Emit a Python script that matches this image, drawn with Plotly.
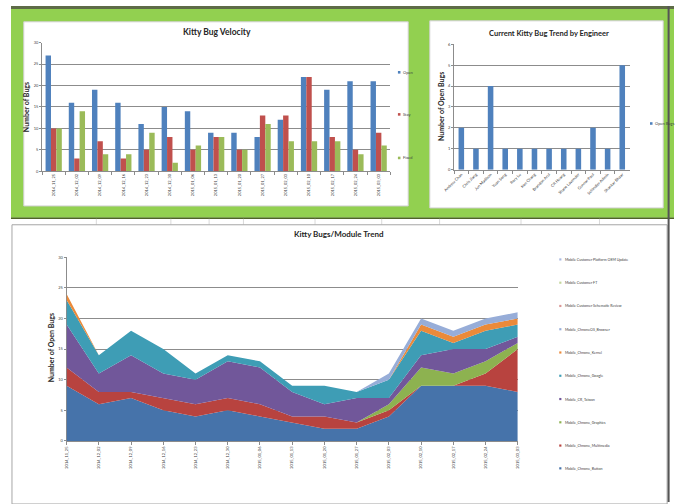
import plotly.graph_objects as go

W, H = 676, 504
def px(x): return x / W
def py(y): return 1 - y / H

# ---------------- data ----------------
dates = ["2014_11_25", "2014_12_02", "2014_12_09", "2014_12_16", "2014_12_23",
         "2014_12_30", "2015_01_06", "2015_01_13", "2015_01_20", "2015_01_27",
         "2015_02_03", "2015_02_10", "2015_02_17", "2015_02_24", "2015_03_03"]

open_bugs = [27, 16, 19, 16, 11, 15, 14, 9, 9, 8, 12, 22, 19, 21, 21]
stay_bugs = [10, 3, 7, 3, 5, 8, 5, 8, 5, 13, 13, 22, 8, 5, 9]
fixed_bugs = [10, 14, 4, 4, 9, 2, 6, 8, 5, 11, 7, 7, 7, 4, 6]

engineers = ["Andrew Chan", "Chris Jiang", "Jun Madison", "Yuan Song", "Rory Lu",
             "Ken Chang", "Brandon Arul", "CR Huang", "Shane Lavender",
             "Gunnar Paul", "Schindler Admin", "Shankar Bhaar"]
engineer_open = [2, 1, 4, 1, 1, 1, 1, 1, 1, 2, 1, 5]

chrome_button = [9, 6, 7, 5, 4, 5, 4, 3, 2, 2, 4, 9, 9, 9, 8]
chrome_multimedia = [3, 2, 1, 2, 2, 2, 2, 1, 2, 1, 1, 0, 0, 2, 7]
chrome_graphics = [0, 0, 0, 0, 0, 0, 0, 0, 0, 0, 1, 3, 2, 2, 1]
cr_taiwan = [7, 3, 6, 4, 4, 6, 6, 4, 2, 4, 1, 2, 4, 2, 1]
chrome_google = [4, 3, 4, 4, 1, 1, 1, 1, 3, 1, 3, 4, 1, 3, 2]
chrome_kernel = [1, 0, 0, 0, 0, 0, 0, 0, 0, 0, 0, 1, 1, 1, 1]
chromeos_browser = [0, 0, 0, 0, 0, 0, 0, 0, 0, 0, 1, 1, 1, 1, 1]
customer_schematic = [0] * 15
customer_ft = [0] * 15
customer_platform = [0] * 15

module_names = ["Mobile_Chrome_Button", "Mobile_Chrome_Multimedia", "Mobile_Chrome_Graphics",
                "Mobile_CR_Taiwan", "Mobile_Chrome_Google", "Mobile_Chrome_Kernel",
                "Mobile_ChromeOS_Browser", "Mobile Customer Schematic Review",
                "Mobile Customer FT", "Mobile Customer Platform OEM Update"]
module_series = [chrome_button, chrome_multimedia, chrome_graphics, cr_taiwan,
                 chrome_google, chrome_kernel, chromeos_browser, customer_schematic,
                 customer_ft, customer_platform]
module_colors = ["#4673AA", "#B8433F", "#8DB250", "#71579A", "#3E9DB5", "#EB8A3A",
                 "#97ADD8", "#D99694", "#C3D69B", "#A9B8E0"]

FONT = "Lato"
GRID = "#8C8C8C"
AXIS = "#8C8C8C"
TXT = "#404040"

fig = go.Figure()

# ---------------- top-left: grouped bars ----------------
for name, vals, col in [("Open", open_bugs, "#4F81BD"), ("Stay", stay_bugs, "#C0504D"),
                        ("Fixed", fixed_bugs, "#9BBB59")]:
    fig.add_trace(go.Bar(x=dates, y=vals, name=name, marker_color=col,
                         marker_line_width=0, xaxis="x", yaxis="y", showlegend=False))

# ---------------- top-right: engineer bars ----------------
fig.add_trace(go.Bar(x=engineers, y=engineer_open, name="Open Bugs", marker_color="#4F81BD",
                     marker_line_width=0, width=0.38, offset=-0.19,
                     xaxis="x2", yaxis="y2", showlegend=False))

# ---------------- bottom: stacked area ----------------
for name, vals, col in zip(module_names, module_series, module_colors):
    fig.add_trace(go.Scatter(x=dates, y=vals, name=name, mode="lines",
                             line=dict(width=0, color=col), fillcolor=col,
                             stackgroup="one", xaxis="x3", yaxis="y3", showlegend=False))

common_x = dict(type="category", showline=True, linecolor=AXIS, linewidth=1,
                showgrid=False, ticks="outside", ticklen=3, tickcolor=AXIS,
                tickfont=dict(size=4, color=TXT, family=FONT), fixedrange=True)
common_y = dict(showline=True, linecolor=AXIS, linewidth=1, showgrid=True,
                gridcolor=GRID, gridwidth=1, ticks="outside", ticklen=2, tickcolor=AXIS,
                tickfont=dict(size=4, color=TXT, family=FONT), zeroline=False,
                fixedrange=True)

fig.update_layout(
    width=W, height=H, margin=dict(l=0, r=0, t=0, b=0),
    paper_bgcolor="white", plot_bgcolor="rgba(0,0,0,0)",
    barmode="group", bargap=0.3, bargroupgap=0,
    font=dict(family=FONT, color=TXT),
    xaxis=dict(domain=[px(31.7), px(386.7)], anchor="y", tickangle=-90,
               tickson="boundaries", **common_x),
    yaxis=dict(domain=[py(170), py(40)], anchor="x", range=[0, 30], dtick=5, **common_y),
    xaxis2=dict(domain=[px(451.7), px(630.7)], anchor="y2", tickangle=-45,
                tickson="boundaries", **common_x),
    yaxis2=dict(domain=[py(168.3), py(41.7)], anchor="x2", range=[0, 6], dtick=1, **common_y),
    xaxis3=dict(domain=[px(56.7), px(516.7)], anchor="y3", tickangle=-90,
                range=[0, len(dates) - 1], **common_x),
    yaxis3=dict(domain=[py(442.3), py(256.7)], anchor="x3", range=[0, 30], dtick=5,
                layer="below traces", **common_y),
)

shapes = []
# green dashboard band
shapes.append(dict(type="rect", xref="paper", yref="paper", x0=0, x1=1, y0=py(217), y1=py(5),
                   fillcolor="#92D050", line_width=0, layer="below"))
shapes.append(dict(type="rect", xref="paper", yref="paper", x0=0, x1=1, y0=py(6), y1=py(3),
                   fillcolor="#5E6B47", line_width=0, layer="below"))
shapes.append(dict(type="line", xref="paper", yref="paper", x0=0, x1=1, y0=py(217.5), y1=py(217.5),
                   line=dict(color="#4F6228", width=1.5), layer="below"))
# excel cell lines in the gap strip
for gx in [87, 163, 202, 237, 310, 378, 437, 520, 600]:
    shapes.append(dict(type="line", xref="paper", yref="paper", x0=px(gx), x1=px(gx),
                       y0=py(224), y1=py(218), line=dict(color="#D9D9D9", width=1), layer="below"))
# white chart panels
shapes.append(dict(type="rect", xref="paper", yref="paper", x0=px(13), x1=px(405),
                   y0=py(205), y1=py(19), fillcolor="white",
                   line=dict(color="#D0D0D0", width=1), layer="below"))
shapes.append(dict(type="rect", xref="paper", yref="paper", x0=px(427), x1=px(665),
                   y0=py(207), y1=py(18), fillcolor="white",
                   line=dict(color="#D0D0D0", width=1), layer="below"))
# bottom chart panel
shapes.append(dict(type="rect", xref="paper", yref="paper", x0=px(1), x1=px(669),
                   y0=py(506), y1=py(224), fillcolor="white",
                   line=dict(color="#A6A6A6", width=1), layer="below"))
# right border
shapes.append(dict(type="line", xref="paper", yref="paper", x0=px(670.5), x1=px(670.5),
                   y0=0, y1=py(3), line=dict(color="#555555", width=2), layer="below"))

annotations = []
def txt(x, y, s, size, bold=False, angle=0, xanchor="center", color="#262626"):
    annotations.append(dict(xref="paper", yref="paper", x=px(x), y=py(y),
                            text=("<b>%s</b>" % s) if bold else s, showarrow=False,
                            textangle=angle, xanchor=xanchor, yanchor="middle",
                            font=dict(size=size, family=FONT, color=color)))

txt(210, 29, "Kitty Bug Velocity", 8.5, bold=True)
txt(549, 31, "Current Kitty Bug Trend by Engineer", 7.5, bold=True)
txt(334, 233.5, "Kitty Bugs/Module Trend", 8, bold=True)
txt(15.5, 105, "Number of Bugs", 7, bold=True, angle=-90)
txt(438.5, 105, "Number of Open Bugs", 7, bold=True, angle=-90)
txt(40.5, 348, "Number of Open Bugs", 7, bold=True, angle=-90)

def marker(x, y, col, s=2.6):
    shapes.append(dict(type="rect", xref="paper", yref="paper", x0=px(x), x1=px(x + s),
                       y0=py(y + s / 2), y1=py(y - s / 2), fillcolor=col, line_width=0))

# top-left legend
for name, yy, col in [("Open", 70, "#4F81BD"), ("Stay", 112.5, "#C0504D"), ("Fixed", 156.5, "#9BBB59")]:
    marker(394.5, yy, col)
    txt(398, yy, name, 4, xanchor="left", color=TXT)
# top-right legend
marker(651.5, 121.7, "#4F81BD")
txt(655, 121.7, "Open Bugs", 4, xanchor="left", color=TXT)
# bottom legend (top entry = last series)
legend_y = [259, 282.5, 306, 329.5, 353, 376.5, 400, 423.5, 447, 470]
for i, yy in enumerate(legend_y):
    idx = len(module_names) - 1 - i
    marker(559, yy, module_colors[idx], s=2.2)
    txt(562.5, yy, module_names[idx], 3.6, xanchor="left", color=TXT)

fig.update_layout(shapes=shapes, annotations=annotations)
fig.write_html("out.html")
